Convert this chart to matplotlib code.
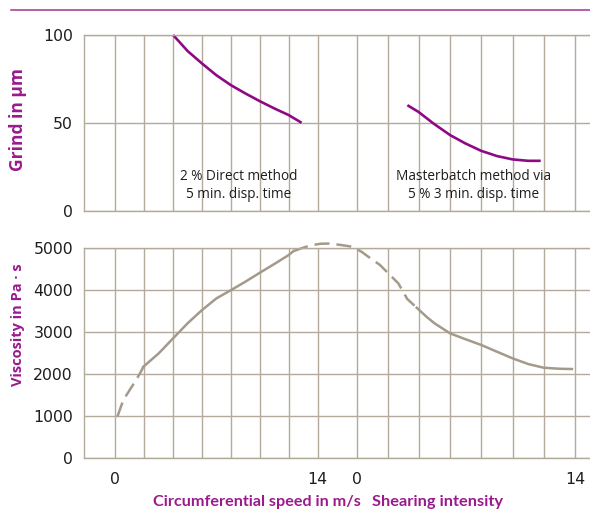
import matplotlib
matplotlib.use('Agg')
import matplotlib.pyplot as plt
import numpy as np

plt.rcParams['font.family'] = ['Open Sans', 'DejaVu Sans']

PURPLE = '#8e0a85'
LABEL_PURPLE = '#9a1a8d'
GRID = '#b3aa9c'
CURVE_GRAY = '#a39a8b'
TEXT = '#1e1e1e'

# x axis has two scales side by side: circumferential speed (m/s) and shearing intensity
SHEAR0 = 16.70      # where shearing intensity 0 sits, in speed units
SHEAR_K = 1.081     # width of one shearing unit, in speed units

# --- grind (top panel) ---
direct_speed = [4, 5, 6, 7, 8, 9, 10, 11, 12, 12.9]
direct_grind = [100, 90.9, 83.8, 77.1, 71.5, 66.8, 62.4, 58.3, 54.5, 50.1]

master_shear = [3.26, 3.97, 4.93, 6.0, 6.97, 7.98, 9.0, 10.0, 11.0, 11.8]
master_grind = [60.1, 56.3, 49.7, 43.1, 38.4, 34.2, 31.2, 29.3, 28.5, 28.5]

# --- viscosity (bottom panel) ---
visc_dash1_speed = [0.14, 0.55, 1.14, 1.71, 1.94]
visc_dash1 = [979, 1377, 1695, 2014, 2172]

visc_solid1_speed = [1.94, 3, 4, 5, 6, 7, 8, 9, 10, 11, 12, 12.34]
visc_solid1 = [2172, 2490, 2850, 3208, 3525, 3804, 4000, 4201, 4415, 4623, 4838, 4933]

bridge_speed = [12.34, 13.14, 13.69, 14.18, 14.88, 15.68, 16.26]
bridge_speed_visc = [4933, 5030, 5080, 5107, 5115, 5075, 5045]
bridge_shear = [0, 0.33, 0.76, 1.51, 1.94, 2.68, 3.25, 3.86]
bridge_shear_visc = [4981, 4916, 4797, 4599, 4439, 4162, 3790, 3580]

visc_solid2_shear = [3.86, 4.5, 5, 6, 7, 8, 9, 10, 11, 12, 13, 13.8]
visc_solid2 = [3580, 3360, 3208, 2968, 2826, 2690, 2530, 2372, 2236, 2148, 2124, 2117]

grid_speed = [0, 2, 4, 6, 8, 10, 12, 14]
grid_shear = [0, 2, 4, 6, 8, 10, 12, 14]
speed_labels = ['0', '', '', '', '', '', '', '14']
shear_labels = ['0', '', '', '', '', '', '', '14']

grind_ticks = [0, 50, 100]
visc_ticks = [0, 1000, 2000, 3000, 4000, 5000]


def shear_pos(t):
    return SHEAR0 + np.asarray(t, dtype=float) * SHEAR_K


xticks = list(grid_speed) + list(shear_pos(grid_shear))
xlabels = speed_labels + shear_labels
XLIM = (-2.17, 32.87)


def style_axes(ax, yticks, ylim, show_xlabels):
    ax.set_xlim(*XLIM)
    ax.set_ylim(*ylim)
    ax.set_xticks(xticks)
    ax.set_xticklabels(xlabels if show_xlabels else [''] * len(xticks))
    ax.set_yticks(yticks)
    ax.tick_params(length=0, labelsize=11.3, colors=TEXT)
    ax.tick_params(axis='y', pad=8)
    ax.tick_params(axis='x', pad=10)
    for lab in ax.get_xticklabels() + ax.get_yticklabels():
        lab.set_family('DejaVu Sans')
    ax.grid(True, color=GRID, linewidth=1.0)
    ax.set_axisbelow(True)
    for side in ['left', 'bottom', 'top']:
        ax.spines[side].set_color(GRID)
        ax.spines[side].set_linewidth(1.0)
    ax.spines['right'].set_visible(False)
    ax.patch.set_alpha(0)


fig = plt.figure(figsize=(5.9, 5.09), dpi=100)

# top rule
fig.add_artist(plt.Line2D([11 / 590, 1.0], [1 - 10 / 509, 1 - 10 / 509],
                          color='#a2348f', linewidth=1.1))

ax1 = fig.add_axes([0.1424, 0.5855, 0.8576, 0.3458])
style_axes(ax1, grind_ticks, (0, 100), False)
ax1.plot(direct_speed, direct_grind, color=PURPLE, linewidth=1.9, clip_on=False,
         solid_capstyle='butt')
ax1.plot(shear_pos(master_shear), master_grind, color=PURPLE, linewidth=1.9,
         solid_capstyle='butt')
ax1.text(8.52, 14.3, '2 % Direct method\n5 min. disp. time', ha='center', va='center',
         fontsize=9.8, color=TEXT, linespacing=1.25)
ax1.text(24.84, 14.3, 'Masterbatch method via\n5 % 3 min. disp. time', ha='center',
         va='center', fontsize=9.8, color=TEXT, linespacing=1.25)

ax2 = fig.add_axes([0.1424, 0.1008, 0.8576, 0.4114])
style_axes(ax2, visc_ticks, (0, 5000), True)
dash_kw = dict(color=CURVE_GRAY, linewidth=1.8, dashes=(6, 2.8), clip_on=False)
ax2.plot(visc_dash1_speed, visc_dash1, **dash_kw)
ax2.plot(visc_solid1_speed, visc_solid1, color=CURVE_GRAY, linewidth=1.8)
bridge_x = list(bridge_speed) + list(shear_pos(bridge_shear))
bridge_y = list(bridge_speed_visc) + list(bridge_shear_visc)
ax2.plot(bridge_x, bridge_y, **dash_kw)
ax2.plot(shear_pos(visc_solid2_shear), visc_solid2, color=CURVE_GRAY, linewidth=1.8)

fig.text(18 / 590, 1 - 120 / 509, 'Grind in µm', rotation=90, ha='center', va='center',
         fontsize=12.5, fontweight='bold', color=LABEL_PURPLE)
fig.text(18 / 590, 1 - 325 / 509, 'Viscosity in Pa · s', rotation=90, ha='center',
         va='center', fontsize=10.5, fontweight='bold', color=LABEL_PURPLE)
fig.text(257 / 590, 3 / 509, 'Circumferential speed in m/s', ha='center', va='baseline',
         fontsize=11.6, fontweight='bold', color=LABEL_PURPLE, family=['Lato', 'DejaVu Sans'])
fig.text(437 / 590, 3 / 509, 'Shearing intensity', ha='center', va='baseline',
         fontsize=11.8, fontweight='bold', color=LABEL_PURPLE, family=['Lato', 'DejaVu Sans'])

fig.savefig('out.png', dpi=100)
